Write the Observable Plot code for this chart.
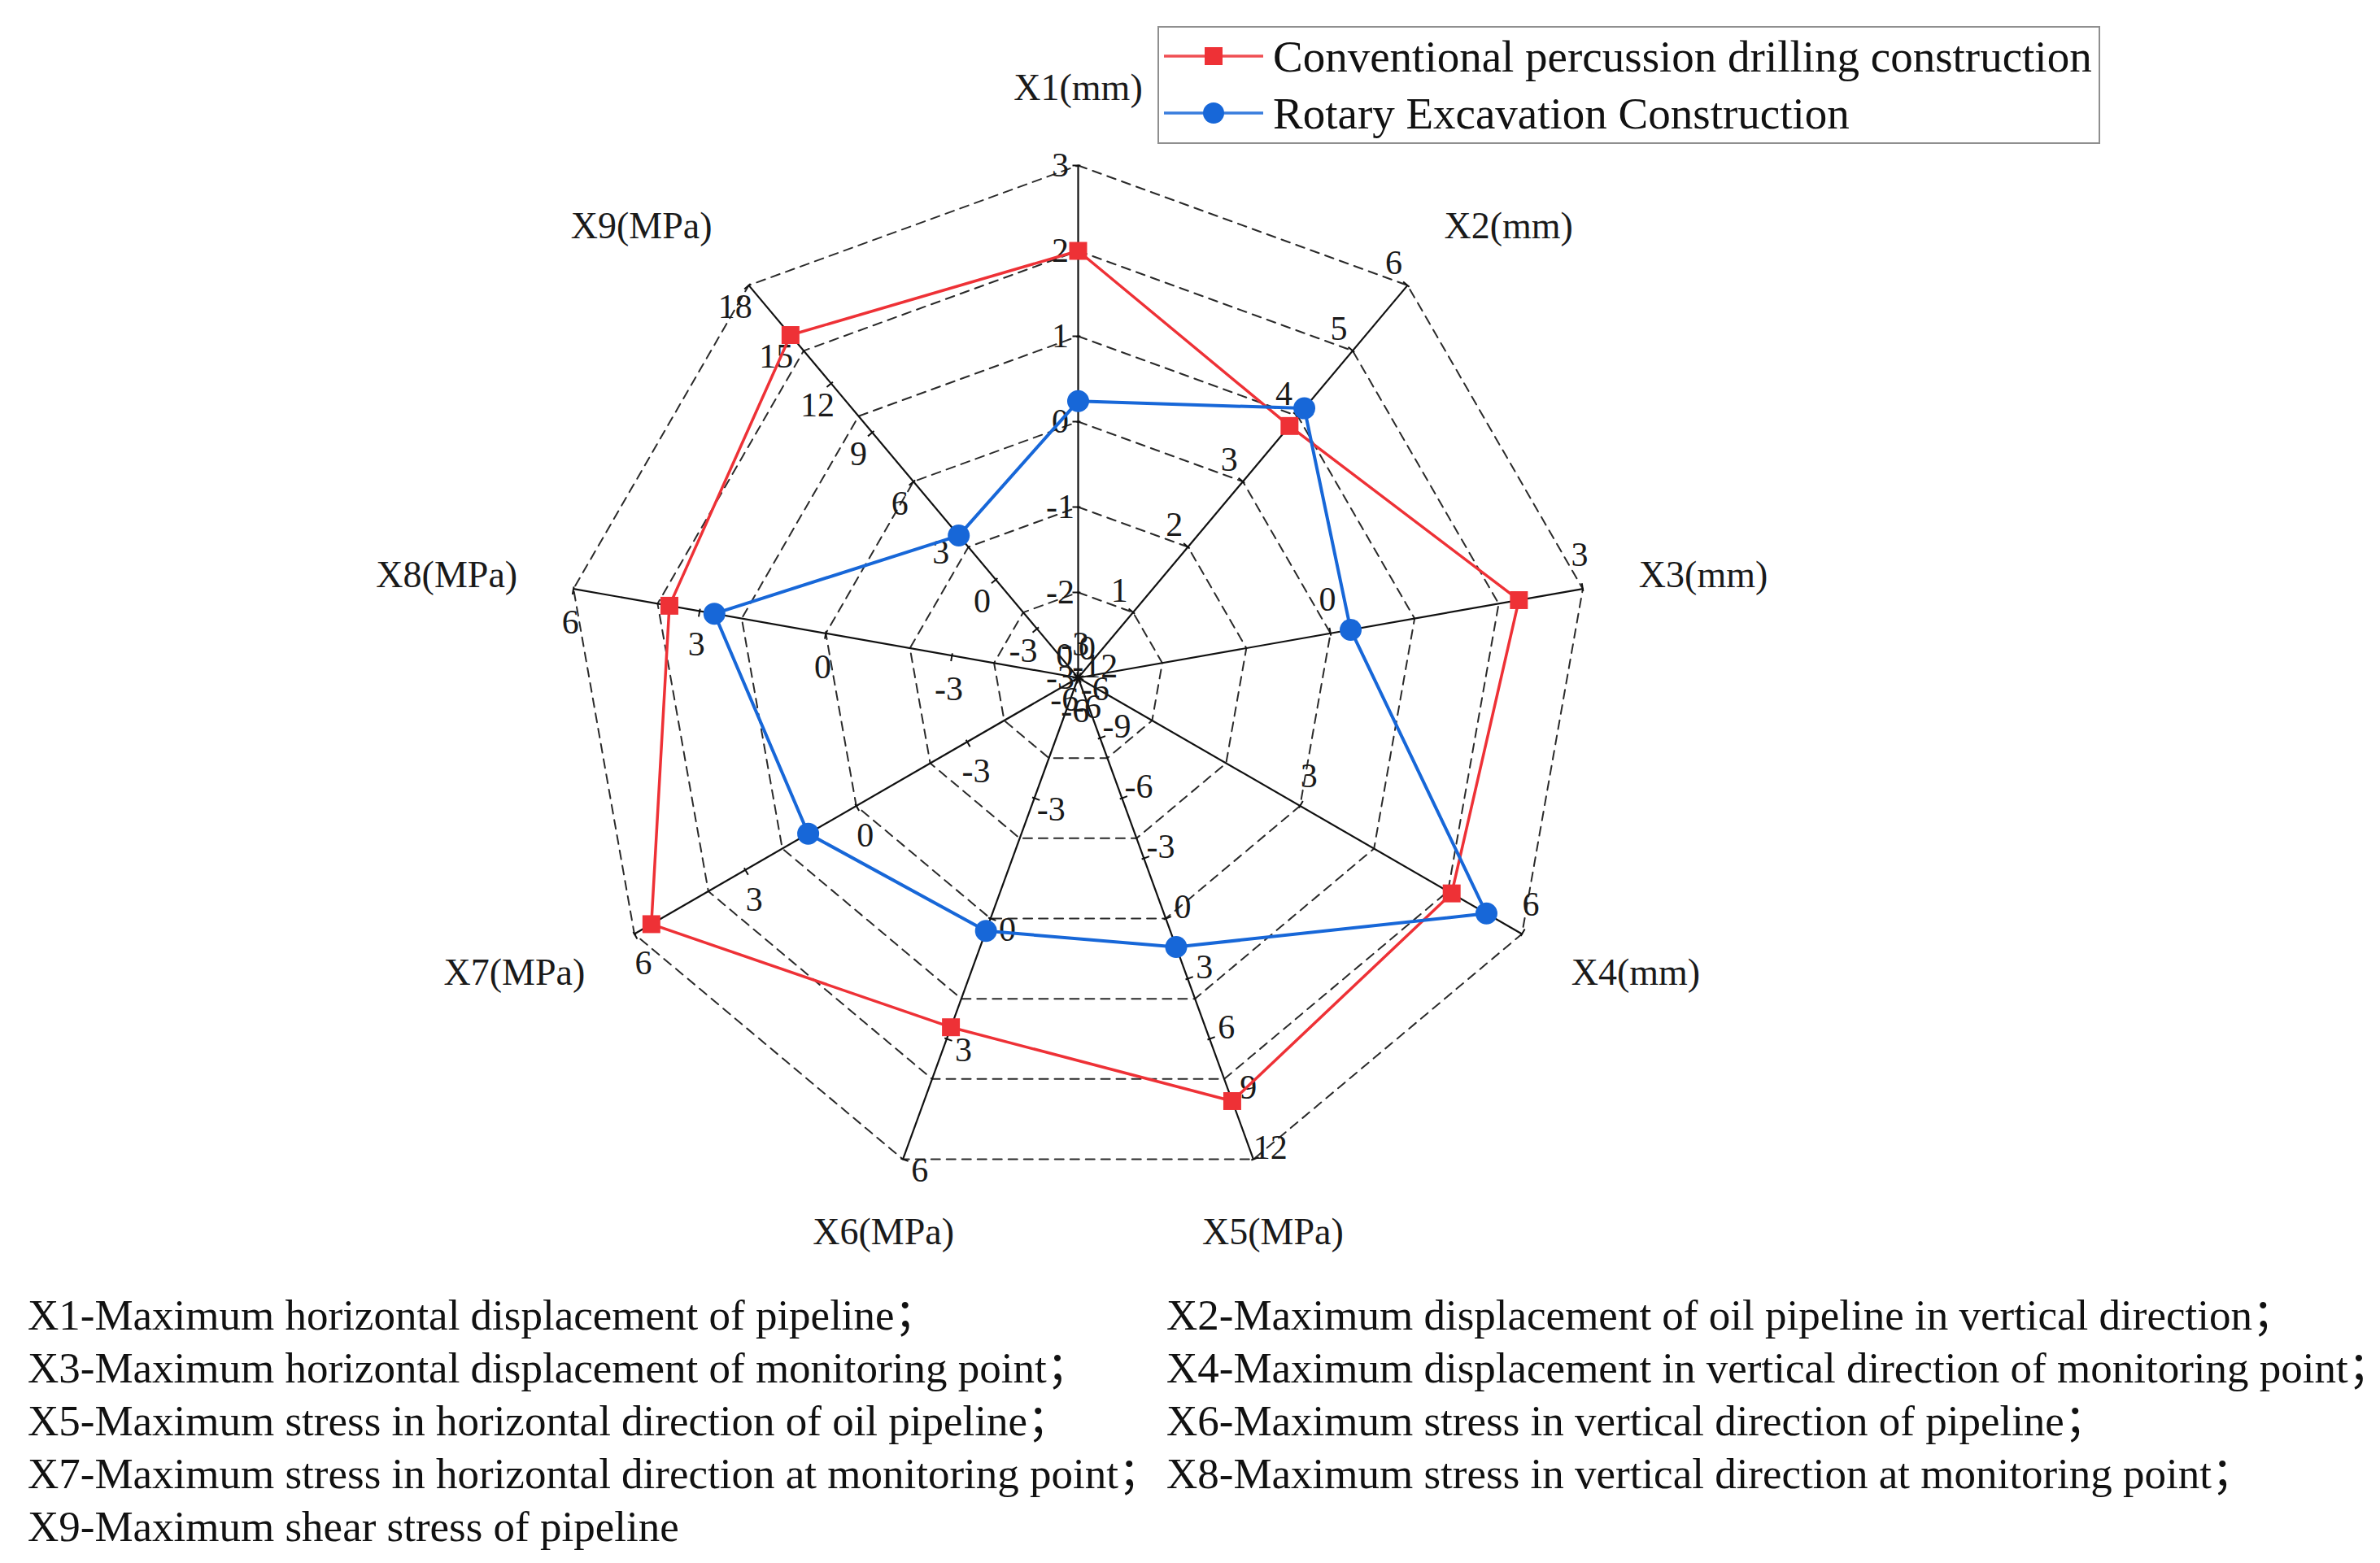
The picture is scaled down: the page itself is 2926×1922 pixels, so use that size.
<!DOCTYPE html>
<html>
<head>
<meta charset="utf-8">
<script src="https://cdn.jsdelivr.net/npm/d3@7"></script>
<script src="https://cdn.jsdelivr.net/npm/@observablehq/plot@0.6"></script>
<style>
  html, body { margin: 0; padding: 0; background: #fff; }
  body { width: 2926px; height: 1922px; overflow: hidden; font-family: "Liberation Serif", "Noto Sans CJK SC", serif; color: #111; }
  #wrap { position: relative; width: 2926px; height: 1922px; }
  #chart { position: absolute; left: 0; top: 0; }
  #legend { position: absolute; left: 1423px; top: 32px; width: 1155px; height: 141px; border: 2px solid #8f8f8f; background: #fff; }
  .lrow { position: absolute; left: 0; height: 60px; display: flex; align-items: center; font-size: 55px; white-space: nowrap; }
  .lrow svg { margin-left: 6px; margin-right: 10px; }
  #caption { position: absolute; left: 0; top: 1585px; width: 2926px; font-size: 53px; line-height: 65px; }
  .cline { position: absolute; white-space: nowrap; }
</style>
</head>
<body>
<div id="wrap">
  <div id="chart"></div>
  <div id="legend"></div>
  <div id="caption"></div>
</div>
<script>
// ---------------- data ----------------
const axisLabels = ["X1(mm)", "X2(mm)", "X3(mm)", "X4(mm)", "X5(MPa)", "X6(MPa)", "X7(MPa)", "X8(MPa)", "X9(MPa)"];
const axisMin = [-3, 0, -3, 0, -12, -6, -6, -6, -6];
const axisMax = [3, 6, 3, 6, 12, 6, 6, 6, 18];
const tickStep = [1, 1, 3, 3, 3, 3, 3, 3, 3];
const seriesNames = ["Conventional percussion drilling construction", "Rotary Excavation Construction"];
const conventional = [2.0, 3.85, 2.24, 5.05, 9.1, 2.71, 5.54, 3.72, 14.96];
const rotary = [0.24, 4.12, 0.24, 5.52, 1.42, 0.31, 1.30, 2.65, 2.7];
const captionLeft = [
  "X1-Maximum horizontal displacement of pipeline；",
  "X3-Maximum horizontal displacement of monitoring point；",
  "X5-Maximum stress in horizontal direction of oil pipeline；",
  "X7-Maximum stress in horizontal direction at monitoring point；",
  "X9-Maximum shear stress of pipeline"
];
const captionRight = [
  "X2-Maximum displacement of oil pipeline in vertical direction；",
  "X4-Maximum displacement in vertical direction of monitoring point；",
  "X6-Maximum stress in vertical direction of pipeline；",
  "X8-Maximum stress in vertical direction at monitoring point；"
];

// ---------------- layout ----------------
const W = 2926, H = 1580, CX = 1325, CY = 833, UNIT = 105, RINGS = 6;
const RED = "#ee3136", BLUE = "#1767d8";
const FONT = "'Liberation Serif', 'Times New Roman', serif";
const n = axisLabels.length;
const ang = i => i * 2 * Math.PI / n;
const sx = i => Math.sin(ang(i)), cy = i => Math.cos(ang(i));
const toRing = (i, v) => (v - axisMin[i]) / (axisMax[i] - axisMin[i]) * RINGS;
const polar = (i, r) => ({x: r * sx(i), y: r * cy(i)});
const pt = (i, v) => polar(i, toRing(i, v));
// screen-space left perpendicular of axis i
const perpS = i => [-cy(i), -sx(i)];

// rings
const ringPts = d3.range(1, RINGS + 1).flatMap(k => d3.range(n + 1).map(j => ({k, ...polar(j % n, k)})));
// axis spokes
const spokes = d3.range(n).map(i => ({x1: 0, y1: 0, x2: polar(i, RINGS).x, y2: polar(i, RINGS).y}));
// ticks
const ticks = [];
for (let i = 0; i < n; i++) {
  for (let v = axisMin[i]; v <= axisMax[i] + 1e-9; v += tickStep[i]) ticks.push({i, v, ...pt(i, v)});
}
const tickLen = 7 / UNIT;
const tickSegs = ticks.map(t => {
  const [px, py] = perpS(t.i);
  const dxd = px * tickLen, dyd = -py * tickLen;
  return {x1: t.x - dxd * 0.4, y1: t.y - dyd * 0.4, x2: t.x + dxd, y2: t.y + dyd};
});
const tickLabels = ticks.map(t => {
  const [px, py] = perpS(t.i);
  return {x: t.x + px * 22 / UNIT, y: t.y - py * 42 / UNIT, text: String(t.v)};
});
// axis titles
const titles = d3.range(n).map(i => {
  const e = polar(i, RINGS);
  const s = sx(i);
  return {x: e.x + s * 70 / UNIT, y: e.y + cy(i) * 95 / UNIT, text: axisLabels[i],
          anchor: s > 0.5 ? "start" : s < -0.5 ? "end" : "middle"};
});
// series
const loop = vals => d3.range(n + 1).map(j => pt(j % n, vals[j % n]));
const pts = vals => d3.range(n).map(j => pt(j, vals[j]));

const titleMark = a => Plot.text(titles.filter(d => d.anchor === a),
  {x: "x", y: "y", text: "text", fontSize: 46, fill: "#1a1a1a", textAnchor: a, lineAnchor: "middle"});

const chart = Plot.plot({
  width: W, height: H, margin: 0,
  x: {domain: [-CX / UNIT, (W - CX) / UNIT], axis: null},
  y: {domain: [(CY - H) / UNIT, CY / UNIT], axis: null},
  style: {background: "white", fontFamily: FONT, overflow: "visible"},
  marks: [
    Plot.line(ringPts, {x: "x", y: "y", z: "k", stroke: "#2a2a2a", strokeWidth: 2, strokeDasharray: "11,8"}),
    Plot.link(spokes, {x1: "x1", y1: "y1", x2: "x2", y2: "y2", stroke: "#111", strokeWidth: 2.2}),
    Plot.link(tickSegs, {x1: "x1", y1: "y1", x2: "x2", y2: "y2", stroke: "#111", strokeWidth: 2}),
    Plot.text(tickLabels, {x: "x", y: "y", text: "text", fontSize: 42, fill: "#1a1a1a", textAnchor: "middle", lineAnchor: "middle"}),
    titleMark("start"), titleMark("end"), titleMark("middle"),
    Plot.line(loop(conventional), {x: "x", y: "y", stroke: RED, strokeWidth: 3.5}),
    Plot.dot(pts(conventional), {x: "x", y: "y", symbol: "square", fill: RED, r: 12.4}),
    Plot.line(loop(rotary), {x: "x", y: "y", stroke: BLUE, strokeWidth: 4}),
    Plot.dot(pts(rotary), {x: "x", y: "y", symbol: "circle", fill: BLUE, r: 13.5})
  ]
});
document.getElementById("chart").appendChild(chart);

// legend
const legend = document.getElementById("legend");
[[seriesNames[0], RED, "square"], [seriesNames[1], BLUE, "circle"]].forEach(([name, color, sym], k) => {
  const row = document.createElement("div");
  row.className = "lrow";
  row.style.top = (5 + k * 70) + "px";
  const mk = sym === "square"
    ? `<rect x="50" y="4" width="22" height="22" fill="${color}"/>`
    : `<circle cx="61" cy="15" r="13" fill="${color}"/>`;
  row.innerHTML = `<svg width="124" height="30"><line x1="0" y1="15" x2="122" y2="15" stroke="${color}" stroke-width="3.5" opacity="0.85"/>${mk}</svg><span>${name}</span>`;
  legend.appendChild(row);
});

// caption
const cap = document.getElementById("caption");
captionLeft.forEach((t, k) => {
  const d = document.createElement("div");
  d.className = "cline"; d.style.left = "34px"; d.style.top = (k * 65) + "px"; d.textContent = t;
  cap.appendChild(d);
});
captionRight.forEach((t, k) => {
  const d = document.createElement("div");
  d.className = "cline"; d.style.left = "1434px"; d.style.top = (k * 65) + "px"; d.textContent = t;
  cap.appendChild(d);
});
</script>
</body>
</html>
